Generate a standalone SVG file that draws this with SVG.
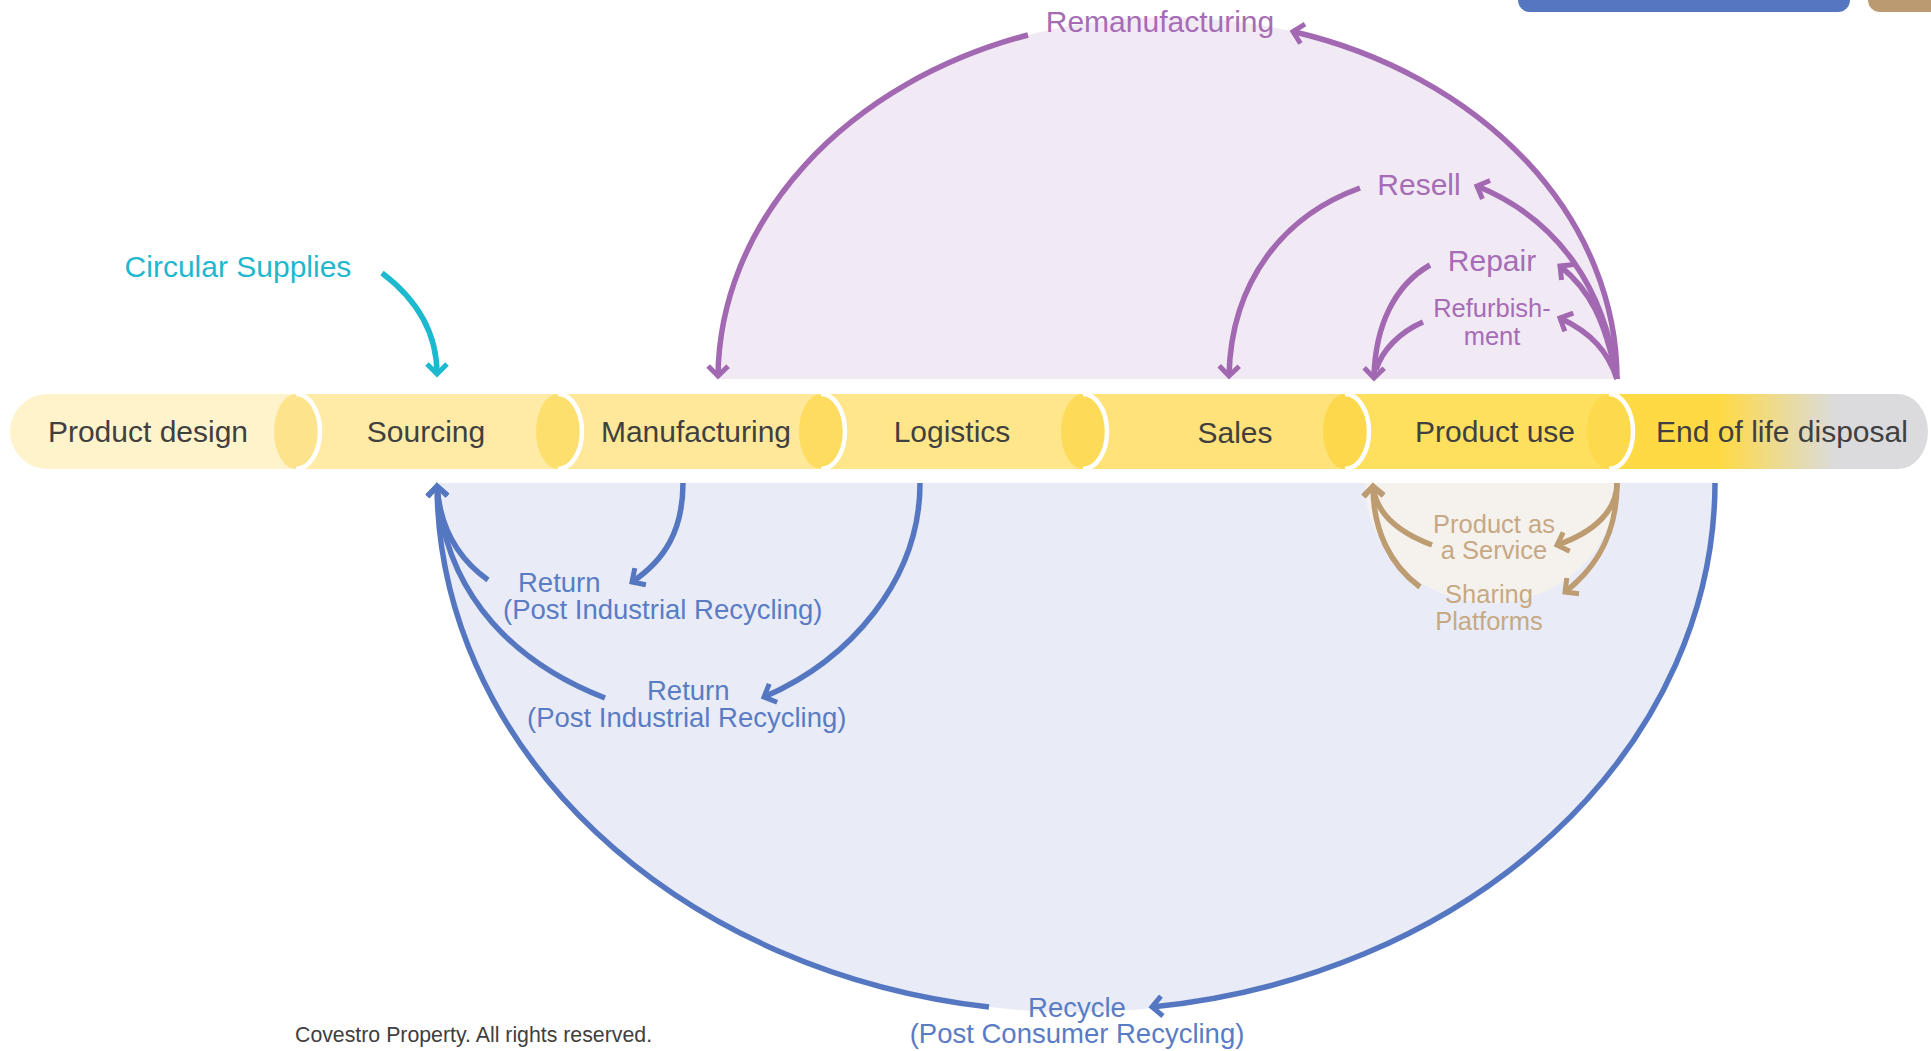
<svg xmlns="http://www.w3.org/2000/svg" width="1931" height="1051" viewBox="0 0 1931 1051">
<defs>
<style>
.band{font-family:"Liberation Sans",Arial,sans-serif;font-size:30px;fill:#404040;text-anchor:middle}
.pl{font-family:"Liberation Sans",Arial,sans-serif;fill:#A66CB6;text-anchor:middle}
.bl{font-family:"Liberation Sans",Arial,sans-serif;font-size:27.5px;fill:#5A7CC4}
.tl{font-family:"Liberation Sans",Arial,sans-serif;font-size:25.5px;fill:#C6A984;text-anchor:middle}
.cap{fill:none;stroke:#fff;stroke-width:4.5}
.ap{fill:none;stroke:#A268B2;stroke-width:5.5;marker-end:url(#mp)}
.apn{fill:none;stroke:#A268B2;stroke-width:5.5}
.ab{fill:none;stroke:#5577C1;stroke-width:5.5;marker-end:url(#mb)}
.at{fill:none;stroke:#BD9C72;stroke-width:5.5;marker-end:url(#mt)}
</style>
<marker id="mp" viewBox="0 0 24 24" markerWidth="24" markerHeight="24" refX="18" refY="12" orient="auto" markerUnits="userSpaceOnUse"><path d="M8,2 L18,12 L8,22" fill="none" stroke="#A268B2" stroke-width="5"/></marker>
<marker id="mb" viewBox="0 0 24 24" markerWidth="24" markerHeight="24" refX="18" refY="12" orient="auto" markerUnits="userSpaceOnUse"><path d="M8,2 L18,12 L8,22" fill="none" stroke="#5577C1" stroke-width="5"/></marker>
<marker id="mt" viewBox="0 0 24 24" markerWidth="24" markerHeight="24" refX="18" refY="12" orient="auto" markerUnits="userSpaceOnUse"><path d="M8,2 L18,12 L8,22" fill="none" stroke="#BD9C72" stroke-width="5"/></marker>
<marker id="mc" viewBox="0 0 24 24" markerWidth="24" markerHeight="24" refX="18" refY="12" orient="auto" markerUnits="userSpaceOnUse"><path d="M8,2 L18,12 L8,22" fill="none" stroke="#1DB9CF" stroke-width="5"/></marker>
<linearGradient id="eol" gradientUnits="userSpaceOnUse" x1="1590" y1="0" x2="1928" y2="0">
<stop offset="0.385" stop-color="#FFDA45"/><stop offset="0.725" stop-color="#DBDBDD"/><stop offset="1" stop-color="#DBDBDD"/>
</linearGradient>
</defs>
<rect width="1931" height="1051" fill="#fff"/>

<!-- background regions -->
<path d="M718,379 A449.5,362 0 0 1 1617,379 Z" fill="#F1EAF4"/>
<path d="M437,483 A639,529 0 0 0 1715,483 Z" fill="#E9ECF6"/>
<path d="M1365,483 A126,120 0 0 0 1617,483 Z" fill="#F5F2EE"/>

<!-- top right tabs -->
<rect x="1518" y="-20" width="332" height="32" rx="12" fill="#5577C1"/>
<rect x="1868" y="-20" width="100" height="32" rx="12" fill="#BB9A72"/>

<!-- band -->
<g id="n-eol">
<rect x="1590" y="394" width="338" height="75" rx="30" ry="37.5" fill="url(#eol)"/>
<text class="band" x="1782" y="442">End of life disposal</text>
</g>
<g id="n-use">
<path d="M1340,394 H1609 A24,37.5 0 0 1 1609,469 H1340 Z" fill="#FFDF5E"/>
<ellipse cx="1609" cy="431.5" rx="22" ry="37.5" fill="#FDD94C"/>
<path class="cap" d="M1609,394 A24,37.5 0 0 1 1609,469"/>
<text class="band" x="1495" y="442">Product use</text>
</g>
<g id="n-sales">
<path d="M1078,394 H1345 A24,37.5 0 0 1 1345,469 H1078 Z" fill="#FFE27A"/>
<ellipse cx="1345" cy="431.5" rx="22" ry="37.5" fill="#FDD84C"/>
<path class="cap" d="M1345,394 A24,37.5 0 0 1 1345,469"/>
<text class="band" x="1235" y="443">Sales</text>
</g>
<g id="n-log">
<path d="M816,394 H1083 A24,37.5 0 0 1 1083,469 H816 Z" fill="#FFE68B"/>
<ellipse cx="1083" cy="431.5" rx="22" ry="37.5" fill="#FDDB58"/>
<path class="cap" d="M1083,394 A24,37.5 0 0 1 1083,469"/>
<text class="band" x="952" y="442">Logistics</text>
</g>
<g id="n-man">
<path d="M553,394 H821 A24,37.5 0 0 1 821,469 H553 Z" fill="#FFE89A"/>
<ellipse cx="821" cy="431.5" rx="22" ry="37.5" fill="#FDDC60"/>
<path class="cap" d="M821,394 A24,37.5 0 0 1 821,469"/>
<text class="band" x="696" y="442">Manufacturing</text>
</g>
<g id="n-src">
<path d="M291,394 H558 A24,37.5 0 0 1 558,469 H291 Z" fill="#FFEBA6"/>
<ellipse cx="558" cy="431.5" rx="22" ry="37.5" fill="#FDDF6E"/>
<path class="cap" d="M558,394 A24,37.5 0 0 1 558,469"/>
<text class="band" x="426" y="442">Sourcing</text>
</g>
<g id="n-design">
<path d="M47.5,394 H296 A24,37.5 0 0 1 296,469 H47.5 A37.5,37.5 0 0 1 47.5,394 Z" fill="#FFF3CB"/>
<ellipse cx="296" cy="431.5" rx="22" ry="37.5" fill="#FDE38B"/>
<path class="cap" d="M296,394 A24,37.5 0 0 1 296,469"/>
<text class="band" x="148" y="442">Product design</text>
</g>

<!-- connectors -->
<g id="connectors">
<path class="ap" d="M1617,379 A449.5,362 0 0 0 1293,31.5"/>
<path class="ap" d="M1028,35 A449.5,362 0 0 0 718,376"/>
<path class="ap" d="M1617,379 C1605,290 1560,220 1477,186"/>
<path class="ap" d="M1360,188 C1285,215 1231,280 1229,376"/>
<path class="ap" d="M1617,379 C1605,320 1590,290 1560,266"/>
<path class="ap" d="M1430,265 C1395,285 1375,325 1374,378"/>
<path class="ap" d="M1617,379 C1608,352 1592,333 1560,318"/>
<path class="apn" d="M1423,322 C1400,332 1382,350 1376,370"/>
<path fill="none" stroke="#1DB9CF" stroke-width="5.5" marker-end="url(#mc)" d="M382,273 C415,298 437,330 437,374"/>
<path class="ab" d="M683,483 C683,530 665,560 632,582"/>
<path class="ab" d="M488,580 C460,560 440,530 437,486"/>
<path class="ab" d="M920,483 C920,580 850,660 764,697"/>
<path class="ab" d="M605,698 C520,665 445,600 437,486"/>
<path class="ab" d="M1715,483 A639,529 0 0 1 1152,1007"/>
<path class="ab" d="M989,1007 A639,529 0 0 1 437,486"/>
<path class="at" d="M1432,545 C1400,533 1376,515 1373,486"/>
<path class="at" d="M1420,587 C1390,565 1373,530 1373,486"/>
<path class="at" d="M1617,483 C1617,510 1595,532 1557,545"/>
<path class="at" d="M1617,483 C1617,530 1600,565 1565,592"/>
</g>

<!-- labels -->
<g id="l-reman"><text class="pl" x="1160" y="32" font-size="30">Remanufacturing</text></g>
<g id="l-resell"><text class="pl" x="1419" y="195" font-size="30">Resell</text></g>
<g id="l-repair"><text class="pl" x="1492" y="271" font-size="30">Repair</text></g>
<g id="l-refurb"><text class="pl" x="1492" y="317" font-size="25.5">Refurbish-</text><text class="pl" x="1492" y="345" font-size="25.5">ment</text></g>
<g id="l-circ"><text x="238" y="277" font-family="Liberation Sans, Arial, sans-serif" font-size="30" fill="#1FB8CE" text-anchor="middle">Circular Supplies</text></g>
<g id="l-ret1"><text class="bl" x="518" y="592">Return</text><text class="bl" x="503" y="619">(Post Industrial Recycling)</text></g>
<g id="l-ret2"><text class="bl" x="647" y="700">Return</text><text class="bl" x="527" y="727">(Post Industrial Recycling)</text></g>
<g id="l-recycle"><text class="bl" x="1077" y="1017" text-anchor="middle">Recycle</text><text class="bl" x="1077" y="1043" text-anchor="middle">(Post Consumer Recycling)</text></g>
<g id="l-paas"><text class="tl" x="1494" y="533">Product as</text><text class="tl" x="1494" y="559">a Service</text></g>
<g id="l-share"><text class="tl" x="1489" y="603">Sharing</text><text class="tl" x="1489" y="630">Platforms</text></g>
<text x="295" y="1042" font-family="Liberation Sans, Arial, sans-serif" font-size="21.3" fill="#404040">Covestro Property. All rights reserved.</text>
</svg>
